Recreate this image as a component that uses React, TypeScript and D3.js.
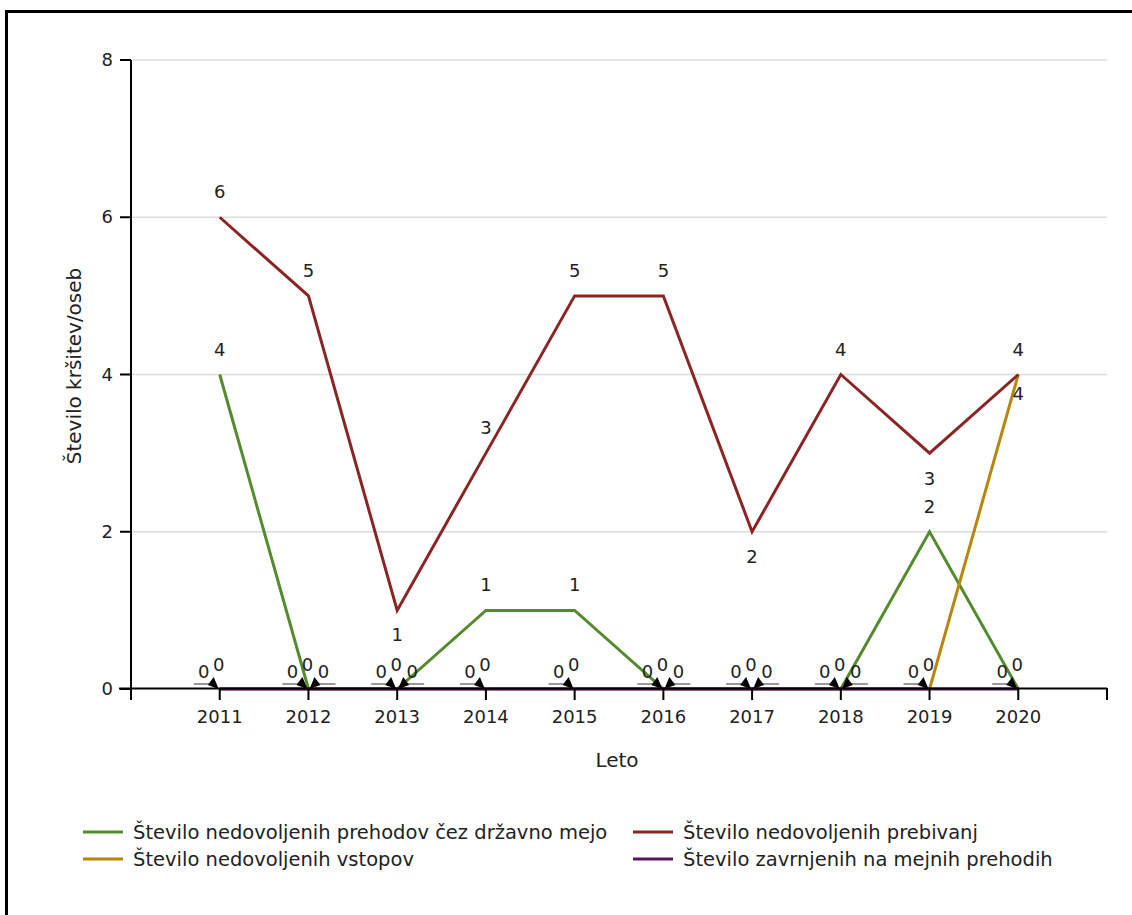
import React from "react";
import * as d3 from "d3";

const years = ["2011", "2012", "2013", "2014", "2015", "2016", "2017", "2018", "2019", "2020"];
const prehodi = [4, 0, 0, 1, 1, 0, 0, 0, 2, 0];
const prebivanja = [6, 5, 1, 3, 5, 5, 2, 4, 3, 4];
const vstopi = [0, 0, 0, 0, 0, 0, 0, 0, 0, 4];
const zavrnjeni = [0, 0, 0, 0, 0, 0, 0, 0, 0, 0];
const yTicks = [0, 2, 4, 6, 8];

const seriesNames = [
  "Število nedovoljenih prehodov čez državno mejo",
  "Število nedovoljenih prebivanj",
  "Število nedovoljenih vstopov",
  "Število zavrnjenih na mejnih prehodih",
];
const seriesValues = [prehodi, prebivanja, vstopi, zavrnjeni];
const seriesColors = ["#558b2f", "#8b2525", "#b8860b", "#5a155e"];
// labels placed below the point: [series index, year index, offset]
const belowLabels: [number, number, number][] = [
  [1, 2, 25],
  [1, 6, 25],
  [1, 8, 26],
  [2, 9, 19],
];

const W = 1132;
const H = 915;
const FONT = "'DejaVu Sans', Verdana, sans-serif";

export default function App() {
  const x = d3.scalePoint<string>().domain(years).range([131, 1107]).padding(1);
  const y = d3.scaleLinear().domain([0, 8]).range([689, 60]);
  const line = d3
    .line<number>()
    .x((_, i) => x(years[i]) as number)
    .y((d) => y(d));

  const drawOrder = [0, 2, 1, 3];

  const zeroClusters = years.map((yr, i) => {
    const n = seriesValues.filter((s) => s[i] === 0).length;
    return { yr, n };
  });

  const labelEls: React.ReactNode[] = [];
  seriesValues.forEach((vals, si) => {
    vals.forEach((v, i) => {
      if (v === 0) return;
      const below = belowLabels.find((b) => b[0] === si && b[1] === i);
      const cy = y(v) + (below ? below[2] : -25);
      labelEls.push(
        <text key={`l${si}-${i}`} x={x(years[i])} y={cy + 6} textAnchor="middle" fontSize={18} fill="#222" fontFamily={FONT}>
          {v}
        </text>
      );
    });
  });

  return (
    <div style={{ position: "absolute", left: 0, top: 0 }}>
      <svg width={W} height={H} style={{ display: "block", background: "#fff" }}>
        <rect x={0} y={0} width={W} height={H} fill="#fff" />
        <line x1={6} y1={11.5} x2={W} y2={11.5} stroke="#000" strokeWidth={3} />
        <line x1={6.5} y1={10} x2={6.5} y2={H} stroke="#000" strokeWidth={3} />

        {yTicks.filter((t) => t > 0).map((t) => (
          <line key={`g${t}`} x1={131} x2={1107} y1={y(t)} y2={y(t)} stroke="#dcdcdc" strokeWidth={1.5} />
        ))}

        {drawOrder.map((si) => (
          <path key={`s${si}`} d={line(seriesValues[si]) || ""} fill="none" stroke={seriesColors[si]} strokeWidth={3} strokeLinejoin="miter" />
        ))}

        <line x1={131} x2={131} y1={60} y2={700} stroke="#000" strokeWidth={2} />
        <line x1={119} x2={1107} y1={688.5} y2={688.5} stroke="#000" strokeWidth={2} />
        <line x1={1107} x2={1107} y1={688} y2={700} stroke="#000" strokeWidth={2} />
        {yTicks.map((t) => (
          <g key={`yt${t}`}>
            <line x1={120} x2={131} y1={y(t)} y2={y(t)} stroke="#000" strokeWidth={2} />
            <text x={113} y={y(t) + 6} textAnchor="end" fontSize={18} fill="#222" fontFamily={FONT}>
              {t}
            </text>
          </g>
        ))}
        {years.map((yr) => (
          <g key={`xt${yr}`}>
            <line x1={x(yr)} x2={x(yr)} y1={689} y2={700} stroke="#000" strokeWidth={2} />
            <text x={x(yr)} y={723} textAnchor="middle" fontSize={18} fill="#222" fontFamily={FONT}>
              {yr}
            </text>
          </g>
        ))}

        {zeroClusters.map(({ yr, n }) => {
          const cx = x(yr) as number;
          if (n < 2) return null;
          return (
            <g key={`z${yr}`}>
              <line x1={cx - 26} x2={cx - 6} y1={684} y2={684} stroke="#999" strokeWidth={2} />
              <polygon points={`${cx - 6},677 ${cx - 12},685 ${cx - 1},689`} fill="#000" />
              <text x={cx - 16} y={678} textAnchor="middle" fontSize={18} fill="#222" fontFamily={FONT}>0</text>
              <text x={cx - 1} y={671} textAnchor="middle" fontSize={18} fill="#222" fontFamily={FONT}>0</text>
              {n >= 3 && (
                <>
                  <line x1={cx + 6} x2={cx + 27} y1={684} y2={684} stroke="#999" strokeWidth={2} />
                  <polygon points={`${cx + 6},677 ${cx + 12},685 ${cx + 1},689`} fill="#000" />
                  <text x={cx + 15} y={678} textAnchor="middle" fontSize={18} fill="#222" fontFamily={FONT}>0</text>
                </>
              )}
            </g>
          );
        })}

        {labelEls}

        <text x={617} y={767} textAnchor="middle" fontSize={20} fill="#222" fontFamily={FONT}>Leto</text>
        <text transform="translate(81,366) rotate(-90)" textAnchor="middle" fontSize={20} fill="#222" fontFamily={FONT}>
          Število kršitev/oseb
        </text>

        {seriesNames.map((name, i) => {
          const col = i % 2;
          const row = Math.floor(i / 2);
          const lx = col === 0 ? 83 : 633;
          const ly = 832 + row * 27;
          return (
            <g key={`lg${i}`}>
              <line x1={lx} x2={lx + 40} y1={ly} y2={ly} stroke={seriesColors[i]} strokeWidth={3} />
              <text x={lx + 50} y={ly + 7} fontSize={19.5} fill="#222" fontFamily={FONT}>
                {name}
              </text>
            </g>
          );
        })}
      </svg>
    </div>
  );
}
